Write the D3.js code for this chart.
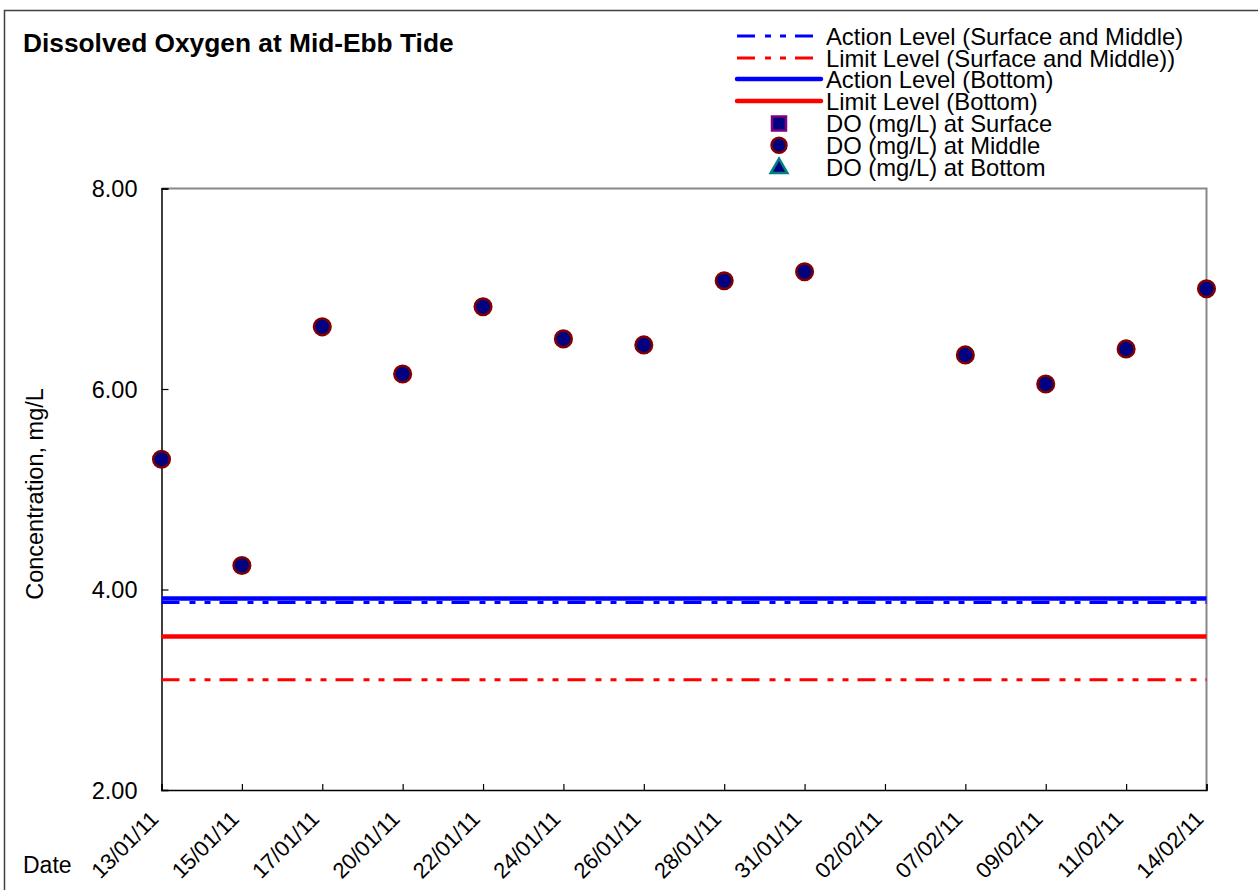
<!DOCTYPE html>
<html><head><meta charset="utf-8">
<script src="https://cdn.jsdelivr.net/npm/d3@7"></script>
<style>body{margin:0;background:#fff;} svg{display:block;} text{font-family:"Liberation Sans",Arial,sans-serif;}</style>
</head><body>
<svg id="c" width="1258" height="890"></svg>
<script>
const dates = ["13/01/11","15/01/11","17/01/11","20/01/11","22/01/11","24/01/11","26/01/11","28/01/11","31/01/11","02/02/11","07/02/11","09/02/11","11/02/11","14/02/11"];
const doSurface = [null,null,null,null,null,null,null,null,null,null,null,null,null,null];
const doMiddle = [5.30,4.24,6.62,6.15,6.82,6.50,6.44,7.08,7.17,null,6.34,6.05,6.40,7.00];
const doBottom = [null,null,null,null,null,null,null,null,null,null,null,null,null,null];
const actionSM = 3.87, limitSM = 3.10, actionBottom = 3.91, limitBottom = 3.53;
const yTicks = [2,4,6,8];

const svg = d3.select("#c");
const L = 161.5, R = 1206.5, T = 188.5, B = 790;
const x = d3.scalePoint().domain(dates).range([L, R]).padding(0);
const y = d3.scaleLinear().domain([2, 8]).range([B, T]);
const font = 23;

// outer border
svg.append("rect").attr("x",4.5).attr("y",10.5).attr("width",1400).attr("height",1000)
  .attr("fill","none").attr("stroke","#404040").attr("stroke-width",1.5);

// title
svg.append("text").attr("x",23).attr("y",52).attr("font-size",26.3).attr("font-weight","bold").text("Dissolved Oxygen at Mid-Ebb Tide");

// plot frame top/right gray
svg.append("path").attr("d",`M${L},${T}H${R}V${B}`).attr("fill","none").attr("stroke","#888").attr("stroke-width",2);

// y axis
const ya = svg.append("g").attr("transform",`translate(${L},0)`)
  .call(d3.axisRight(y).tickValues(yTicks).tickSize(7).tickFormat(d3.format(".2f")));
ya.select(".domain").attr("stroke","#000").attr("stroke-width",1.5);
ya.selectAll(".tick line").attr("stroke","#000").attr("stroke-width",1.2);
ya.selectAll(".tick text").attr("x",-24).attr("text-anchor","end").attr("font-size",23.5).attr("fill","#000").attr("dy","0.35em")
  .style("font-family","'Liberation Sans',Arial,sans-serif");

// x axis
const xa = svg.append("g").attr("transform",`translate(0,${B})`)
  .call(d3.axisTop(x).tickSize(6).tickFormat(""));
xa.select(".domain").attr("stroke","#000").attr("stroke-width",1.5);
xa.selectAll(".tick line").attr("stroke","#000").attr("stroke-width",1.2);
// rotated labels
svg.append("g").selectAll("text").data(dates).join("text")
  .attr("transform", d => `translate(${x(d)-7},${B+25}) rotate(-45)`)
  .attr("text-anchor","end").attr("font-size",22).attr("dy","0.35em").text(d => d);

svg.append("text").attr("x",23).attr("y",873).attr("font-size",font).text("Date");
svg.append("text").attr("transform",`translate(43,${(388+600)/2}) rotate(-90)`).attr("text-anchor","middle")
  .attr("font-size",23.5).text("Concentration, mg/L");

// level lines
const dashPat = "18,10,6,9,6,9";
const levels = [
  {v:limitSM, color:"#ff0000", w:3, dash:dashPat},
  {v:limitBottom, color:"#ff0000", w:4.5, dash:null},
  {v:actionBottom, color:"#0000ff", w:4.5, dash:null},
  {v:actionSM, color:"#0000ff", w:3, dash:dashPat},
];
levels.forEach(l => {
  svg.append("line").attr("x1",x(dates[0])).attr("x2",x(dates[dates.length-1]))
    .attr("y1",y(l.v)).attr("y2",y(l.v)).attr("stroke",l.color).attr("stroke-width",l.w)
    .attr("stroke-dasharray",l.dash);
});

// points
const sym = svg.append("g");
dates.forEach((d,i) => {
  if (doSurface[i] != null) sym.append("rect").attr("x",x(d)-7.5).attr("y",y(doSurface[i])-7.5).attr("width",15).attr("height",15)
     .attr("fill","#000080").attr("stroke","#800080").attr("stroke-width",2.5);
  if (doBottom[i] != null) sym.append("path").attr("transform",`translate(${x(d)},${y(doBottom[i])})`)
     .attr("d",d3.symbol(d3.symbolTriangle,150)()).attr("fill","#000080").attr("stroke","#008080").attr("stroke-width",2.5);
  if (doMiddle[i] != null) sym.append("circle").attr("cx",x(d)).attr("cy",y(doMiddle[i])).attr("r",8.3)
     .attr("fill","#000080").attr("stroke","#800000").attr("stroke-width",2.5);
});

// legend
const lg = svg.append("g");
const lx1 = 737, lx2 = 821, tx = 826, mx = 779;
const rows = [
  {t:"Action Level (Surface and Middle)", type:"line", color:"#0000ff", w:3, dash:dashPat},
  {t:"Limit Level (Surface and Middle))", type:"line", color:"#ff0000", w:3, dash:dashPat},
  {t:"Action Level (Bottom)", type:"line", color:"#0000ff", w:4.5, dash:null},
  {t:"Limit Level (Bottom)", type:"line", color:"#ff0000", w:4.5, dash:null},
  {t:"DO (mg/L) at Surface", type:"square"},
  {t:"DO (mg/L) at Middle", type:"circle"},
  {t:"DO (mg/L) at Bottom", type:"triangle"},
];
const rowY = [36, 58, 79, 101, 123.5, 145.3, 167.3];
rows.forEach((r,i) => {
  const yy = rowY[i];
  if (r.type === "line") {
    lg.append("line").attr("x1",lx1).attr("x2",lx2).attr("y1",yy).attr("y2",yy)
      .attr("stroke",r.color).attr("stroke-width",r.w).attr("stroke-dasharray",r.dash)
      .attr("stroke-linecap", r.dash ? "butt" : "round");
  } else if (r.type === "square") {
    lg.append("rect").attr("x",mx-7).attr("y",yy-7).attr("width",14).attr("height",14)
      .attr("fill","#000080").attr("stroke","#800080").attr("stroke-width",2.5);
  } else if (r.type === "circle") {
    lg.append("circle").attr("cx",mx).attr("cy",yy).attr("r",7.5)
      .attr("fill","#000080").attr("stroke","#800000").attr("stroke-width",2.5);
  } else {
    lg.append("path").attr("transform",`translate(${mx},${yy+1})`).attr("d",d3.symbol(d3.symbolTriangle,120)())
      .attr("fill","#000080").attr("stroke","#008080").attr("stroke-width",2.5);
  }
  lg.append("text").attr("x",tx).attr("y",yy+8.5).attr("font-size",23.8).text(r.t);
});
</script>
</body></html>
